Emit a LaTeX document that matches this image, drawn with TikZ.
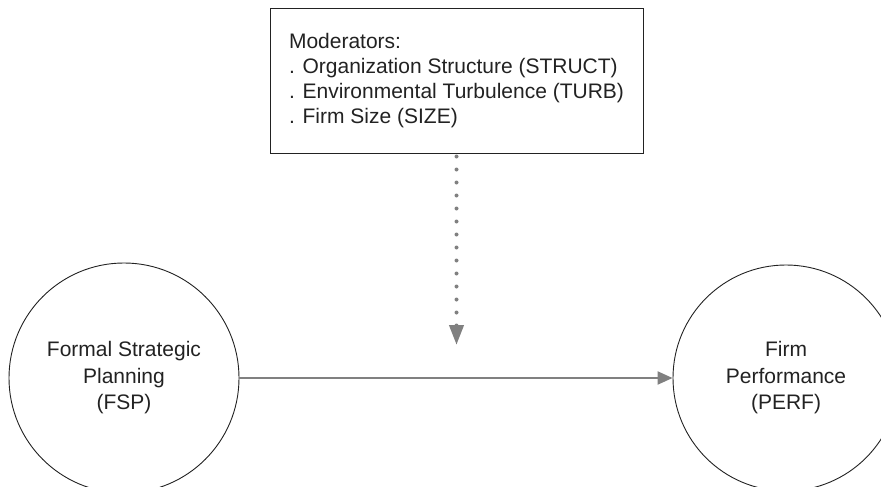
\documentclass[tikz,border=0pt]{standalone}
\usepackage{fontspec}
\setmainfont{Liberation Sans}
\usetikzlibrary{arrows.meta, positioning}
\definecolor{linkgray}{HTML}{808080}
\definecolor{inkdark}{HTML}{222222}
\begin{document}
\begin{tikzpicture}[
    x=1pt, y=-1pt,
    modbox/.style={draw=inkdark, line width=1pt, minimum width=373pt, minimum height=144pt, align=left, font=\fontsize{21}{25}\selectfont, text=inkdark},
    construct/.style={draw=inkdark, line width=0.9pt, circle, minimum size=#1, align=center, font=\fontsize{21}{26.5}\selectfont, text=inkdark},
    flow/.style={-{Triangle[length=15pt, width=13pt]}, linkgray, line width=2.2pt},
    modflow/.style={-{Triangle[length=20pt, width=14pt]}, linkgray, line width=4pt, line cap=round, dash pattern=on 0pt off 13pt}
]
\useasboundingbox (0,0) rectangle (881,487);

\node[modbox] (mods) at (456.5,81) {Moderators:\\. Organization Structure (STRUCT)\\. Environmental Turbulence (TURB)\\. Firm Size (SIZE)};

\node[construct=230pt] (fsp) at (124,378) {Formal Strategic\\Planning\\(FSP)};
\node[construct=226pt] (perf) at (786,378) {Firm\\Performance\\(PERF)};

\coordinate (modtip) at (456.5,345);

\draw[flow] (fsp) -- (perf);
% moderating effect on the main path
\draw[modflow] ([yshift=-3pt]mods.south) -- (modtip);

\end{tikzpicture}
\end{document}
